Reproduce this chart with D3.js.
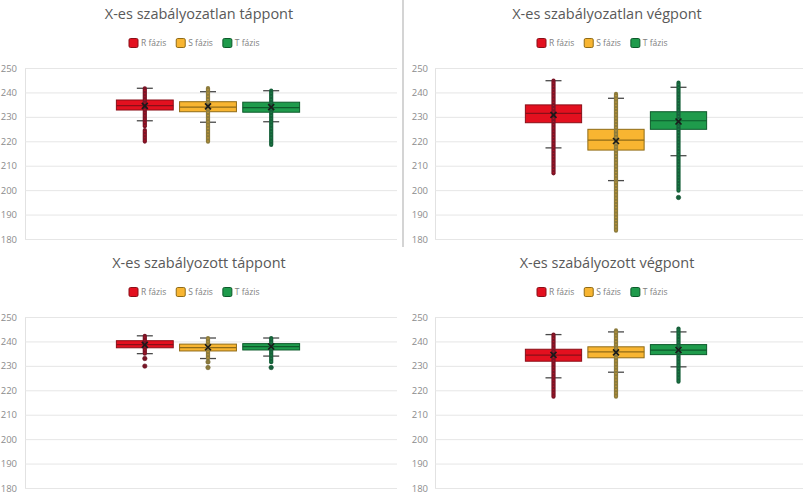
<!DOCTYPE html>
<html>
<head>
<meta charset="utf-8">
<script src="https://cdn.jsdelivr.net/npm/d3@7"></script>
<style>
  body { margin: 0; background: #fff; }
  svg { display: block; font-family: "Open Sans", sans-serif; }
</style>
</head>
<body>
<div id="chart"></div>
<script>
// chart data
var panelTitles = ["X-es szabályozatlan táppont", "X-es szabályozatlan végpont",
                   "X-es szabályozott táppont", "X-es szabályozott végpont"];
var seriesNames = ["R fázis", "S fázis", "T fázis"];
var yTicks = [180, 190, 200, 210, 220, 230, 240, 250];

// per panel, per series (R, S, T)
var q1Vals     = [[232.8, 232.1, 231.9], [227.6, 216.4, 224.9], [237.4, 236.1, 236.5], [231.9, 233.3, 234.6]];
var medianVals = [[234.6, 234.0, 233.8], [231.4, 220.5, 228.4], [238.7, 237.5, 237.9], [234.4, 235.7, 236.4]];
var q3Vals     = [[236.9, 236.2, 236.0], [234.9, 224.9, 232.1], [240.3, 238.9, 239.1], [236.8, 237.8, 238.7]];
var meanVals   = [[234.5, 234.3, 234.0], [230.8, 220.1, 228.1], [238.6, 237.6, 237.9], [234.5, 235.5, 236.5]];
var whiskLow   = [[228.4, 227.8, 228.0], [217.3, 203.9, 214.1], [235.0, 233.0, 234.0], [225.1, 227.4, 229.6]];
var whiskHigh  = [[241.7, 240.3, 240.7], [244.8, 237.6, 242.1], [242.3, 241.4, 241.4], [242.8, 243.9, 243.9]];
// dense runs of data points (inner points + outliers)
var pointRuns = [
  [[[226.2, 241.7], [219.9, 224.6]], [[219.8, 241.8]], [[218.5, 240.7]]],
  [[[206.9, 244.8]], [[183.4, 239.4]], [[199.8, 244.0]]],
  [[[235.0, 242.3]], [[233.0, 241.4]], [[231.5, 241.4]]],
  [[[217.4, 242.8]], [[217.4, 244.5]], [[223.5, 245.3]]]
];
// lone outliers
var loneOutliers = [
  [[], [], []],
  [[], [], [197.0]],
  [[233.0, 229.9], [231.6, 229.3], [229.3]],
  [[], [], []]
];

var fills   = ["#e3101f", "#f8b531", "#1f9b4c"];
var borders = ["#8a0f18", "#8f6b17", "#0d5a2b"];
var dotCols = ["#7a1426", "#8c7b3c", "#16603a"];

var W = 810, H = 500;
var svg = d3.select("#chart").append("svg").attr("width", W).attr("height", H);

// separator between the two upper charts
svg.append("line")
  .attr("x1", 403).attr("x2", 403).attr("y1", 0).attr("y2", 247)
  .attr("stroke", "#d4d4d4").attr("stroke-width", 2);

var cols = [{ x0: 25, x1: 397, lab: 17, mid: 199 }, { x0: 435, x1: 803, lab: 428, mid: 607 }];
var rows = [{ top: 68, bot: 239, title: 19, legend: 43 }, { top: 317, bot: 488, title: 268, legend: 292 }];

panelTitles.forEach(function (title, p) {
  var c = cols[p % 2], r = rows[Math.floor(p / 2)];
  var g = svg.append("g");

  var y = d3.scaleLinear().domain([180, 250]).range([r.bot, r.top]);
  var xCat = d3.scaleBand().domain(["U"]).range([c.x0, c.x1]).padding(0.34);
  var x = d3.scaleBand().domain(seriesNames)
    .range([xCat("U") - 3, xCat("U") - 3 + xCat.bandwidth()]).paddingInner(0.1);

  // title
  g.append("text").attr("x", c.mid).attr("y", r.title)
    .attr("text-anchor", "middle").attr("font-size", 14.5).attr("fill", "#595959")
    .text(title);

  // legend
  var legX = c.mid - 70;
  var leg = g.append("g").attr("transform", "translate(" + legX + "," + r.legend + ")");
  var lx = 0;
  seriesNames.forEach(function (s, i) {
    var it = leg.append("g").attr("transform", "translate(" + lx + ",0)");
    it.append("rect").attr("x", 0).attr("y", -4.5).attr("width", 9).attr("height", 9)
      .attr("rx", 1.5).attr("fill", fills[i]).attr("stroke", borders[i]).attr("stroke-width", 1);
    var t = it.append("text").attr("x", 12).attr("y", 3).attr("font-size", 8.5)
      .attr("fill", "#808080").text(s);
    lx += 12 + t.node().getComputedTextLength() + 10;
  });

  // y axis: gridlines and labels
  var axis = d3.axisLeft(y).tickValues(yTicks).tickSize(-(c.x1 - c.x0)).tickPadding(c.x0 - c.lab);
  var ag = g.append("g").attr("transform", "translate(" + c.x0 + ",0)").call(axis);
  ag.select(".domain").attr("stroke", "#e2e2e2");
  ag.selectAll(".tick line").attr("stroke", "#e6e6e6");
  ag.selectAll(".tick text").attr("fill", "#8c8c8c").attr("font-size", 9.5)
    .attr("font-family", "Open Sans, sans-serif");

  // boxes
  seriesNames.forEach(function (s, i) {
    var bx = x(s), bw = x.bandwidth(), cx = bx + bw / 2;
    var sg = g.append("g");

    sg.append("rect")
      .attr("x", bx).attr("y", y(q3Vals[p][i]))
      .attr("width", bw).attr("height", y(q1Vals[p][i]) - y(q3Vals[p][i]))
      .attr("fill", fills[i]).attr("stroke", borders[i]).attr("stroke-width", 1);
    sg.append("line")
      .attr("x1", bx).attr("x2", bx + bw)
      .attr("y1", y(medianVals[p][i])).attr("y2", y(medianVals[p][i]))
      .attr("stroke", borders[i]).attr("stroke-width", 1.2);

    // whisker
    sg.append("line").attr("x1", cx).attr("x2", cx)
      .attr("y1", y(whiskLow[p][i])).attr("y2", y(whiskHigh[p][i]))
      .attr("stroke", "#404040").attr("stroke-width", 1);
    [whiskLow[p][i], whiskHigh[p][i]].forEach(function (v) {
      sg.append("line").attr("x1", cx - 8).attr("x2", cx + 8)
        .attr("y1", y(v)).attr("y2", y(v))
        .attr("stroke", "#4a4a4a").attr("stroke-width", 1.3);
    });

    // points
    pointRuns[p][i].forEach(function (run) {
      sg.append("line").attr("x1", cx).attr("x2", cx)
        .attr("y1", y(run[0])).attr("y2", y(run[1]))
        .attr("stroke", dotCols[i]).attr("stroke-width", 4.2).attr("stroke-linecap", "round");
      sg.append("line").attr("x1", cx).attr("x2", cx)
        .attr("y1", y(run[0])).attr("y2", y(run[1]))
        .attr("stroke", fills[i]).attr("stroke-opacity", 0.55)
        .attr("stroke-width", 1.4).attr("stroke-dasharray", "1.2,2");
    });
    loneOutliers[p][i].forEach(function (v) {
      sg.append("circle").attr("cx", cx).attr("cy", y(v)).attr("r", 2.2)
        .attr("fill", dotCols[i]).attr("stroke", d3.color(dotCols[i]).darker(0.6)).attr("stroke-width", 0.6);
    });

    // mean marker
    var my = y(meanVals[p][i]);
    sg.append("path")
      .attr("d", "M" + (cx - 3) + "," + (my - 3) + "L" + (cx + 3) + "," + (my + 3) +
                 "M" + (cx - 3) + "," + (my + 3) + "L" + (cx + 3) + "," + (my - 3))
      .attr("stroke", "#1a1a1a").attr("stroke-width", 1.6);
  });
});
</script>
</body>
</html>
